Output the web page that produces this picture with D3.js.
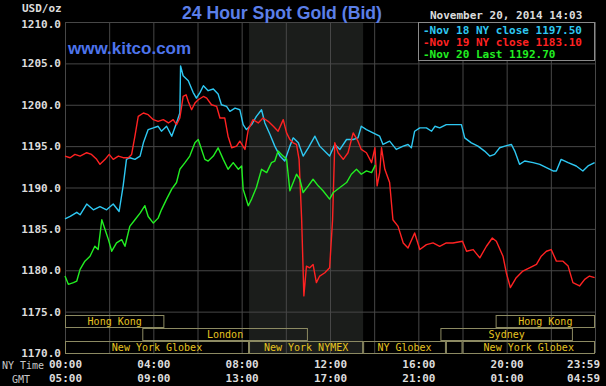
<!DOCTYPE html>
<html>
<head>
<meta charset="utf-8">
<script src="https://cdn.jsdelivr.net/npm/d3@7/dist/d3.min.js"></script>
<style>
  body { margin: 0; background: #000; }
  svg { display: block; }
  .mono { font-family: "DejaVu Sans Mono", monospace; font-weight: bold; }
</style>
</head>
<body>
<div id="chart"></div>
<script>
// Nov 18 (cyan) – NY time and bid
const nov18Times = [
  '00:00','00:14','00:32','00:41','00:59','01:17','01:35','01:53','02:11','02:27','02:38','02:47','02:56',
  '03:10','03:24','03:33','03:46','04:00','04:13','04:22','04:36','04:50','05:03','05:12','05:14','05:21',
  '05:35','05:48','05:57','06:07','06:16','06:29','06:43','06:56','07:05','07:19','07:28','07:42','07:55',
  '08:04','08:13','08:27','08:40','08:54','09:03','09:17','09:30','09:44','09:57','10:11','10:20','10:34',
  '10:47','11:01','11:19','11:32','11:50','11:59','12:13','12:27','12:45','13:03','13:16','13:25','13:39',
  '13:57','14:15','14:24','14:42','15:00','15:19','15:32','15:41','15:50','16:04','16:22','16:36','16:45',
  '16:58','17:16','17:34','17:57','18:06','18:24','18:42','19:00','19:14','19:27','19:41','19:55','20:13',
  '20:22','20:35','20:49','21:12','21:30','21:48','22:06','22:15','22:28','22:47','23:09','23:27','23:41','23:59'
];
const nov18Values = [
  1186.2,1186.5,1187.0,1186.7,1188.0,1187.3,1187.7,1187.3,1188.0,1187.1,1190.2,1193.4,1193.6,
  1193.4,1193.8,1195.4,1197.0,1197.2,1197.4,1196.8,1197.4,1196.2,1197.8,1199.0,1204.7,1203.5,
  1202.9,1201.5,1200.8,1201.5,1202.3,1201.7,1201.9,1201.3,1200.0,1199.8,1199.2,1199.6,1199.4,
  1197.6,1197.0,1197.6,1198.6,1199.4,1197.8,1196.4,1195.0,1193.8,1193.2,1195.0,1196.0,1195.4,
  1193.8,1194.8,1196.2,1195.0,1194.2,1193.8,1195.2,1194.6,1195.8,1195.8,1196.0,1197.4,1197.0,
  1196.6,1196.2,1195.2,1195.6,1194.6,1195.0,1195.2,1194.8,1196.8,1197.2,1197.2,1196.8,1197.4,
  1197.2,1197.6,1197.6,1197.6,1196.0,1195.4,1195.0,1194.4,1193.8,1194.0,1194.8,1195.0,1195.2,
  1194.4,1192.8,1193.2,1193.0,1192.8,1192.4,1192.0,1192.0,1193.4,1193.0,1192.6,1192.0,1192.6,1193.0
];

// Nov 19 (red)
const nov19Times = [
  '00:00','00:14','00:27','00:41','00:59','01:12','01:26','01:35','01:49','02:00',
  '02:11','02:25','02:38','02:52','03:01','03:10','03:19','03:33','03:46','04:00',
  '04:13','04:27','04:41','04:54','05:03','05:12','05:21','05:29','05:35','05:44',
  '05:53','06:02','06:16','06:25','06:38','06:52','07:01','07:14','07:23','07:33',
  '07:46','07:55','08:09','08:18','08:31','08:45','08:58','09:12','09:26','09:39',
  '09:53','10:02','10:11','10:20','10:29','10:36','10:43','10:49','10:56','11:05',
  '11:14','11:23','11:32','11:46','11:59','12:07','12:13','12:22','12:36','12:49',
  '13:03','13:16','13:25','13:39','13:53','14:02','14:08','14:15','14:20','14:29',
  '14:42','14:51','15:05','15:19','15:32','15:50','16:04','16:22','16:40','16:58',
  '17:16','17:34','18:00','18:11','18:29','18:47','19:05','19:21','19:32','19:50',
  '19:59','20:10','20:26','20:44','21:02','21:21','21:34','21:48','22:01','22:15',
  '22:33','22:47','23:00','23:18','23:32','23:45','23:59'
];
const nov19Values = [
  1193.8,1193.6,1194.0,1193.8,1194.2,1194.0,1193.4,1192.8,1193.4,1194.0,
  1193.4,1193.8,1193.6,1193.6,1194.0,1196.2,1198.6,1199.0,1198.8,1198.2,
  1198.0,1198.2,1197.8,1198.2,1197.6,1198.4,1201.0,1201.2,1200.4,1199.4,
  1200.2,1200.6,1201.0,1200.8,1200.0,1199.8,1198.4,1198.4,1196.2,1194.8,
  1195.0,1195.6,1194.6,1197.0,1198.2,1197.8,1198.4,1198.0,1197.4,1196.8,
  1198.2,1196.6,1195.8,1195.4,1195.2,1193.4,1186.1,1176.9,1180.5,1180.3,
  1180.7,1178.5,1179.3,1179.7,1180.3,1186.1,1195.4,1194.2,1193.4,1194.2,
  1196.6,1195.6,1194.6,1194.2,1193.0,1194.8,1190.2,1191.8,1194.8,1192.2,
  1190.6,1186.1,1185.3,1183.3,1182.7,1184.5,1182.5,1183.1,1183.3,1182.9,
  1183.3,1183.3,1183.5,1182.3,1182.5,1181.5,1182.9,1183.9,1183.5,1181.7,
  1179.7,1177.9,1179.1,1179.9,1180.3,1180.7,1181.7,1182.3,1182.5,1181.1,
  1181.1,1180.5,1178.5,1178.1,1178.9,1179.3,1179.1
];

// Nov 20 (green), up to 14:03
const nov20Times = [
  '00:00','00:09','00:23','00:32','00:41','00:54','01:08','01:21','01:30','01:40',
  '01:49','01:58','02:07','02:20','02:34','02:43','02:56','03:10','03:24','03:37',
  '03:46','04:00','04:13','04:22','04:36','04:50','05:03','05:12','05:26','05:39',
  '05:53','06:02','06:11','06:20','06:29','06:43','06:56','07:10','07:23','07:37',
  '07:51','08:00','08:04','08:18','08:27','08:40','08:54','09:08','09:21','09:30',
  '09:39','09:48','10:02','10:11','10:20','10:29','10:38','10:47','11:01','11:14',
  '11:28','11:41','11:59','12:09','12:27','12:45','12:58','13:12','13:25','13:39',
  '13:53','14:03'
];
const nov20Values = [
  1179.3,1178.3,1178.5,1178.7,1180.1,1181.1,1181.7,1182.9,1182.5,1186.1,
  1184.9,1183.7,1182.3,1183.3,1183.7,1182.9,1185.3,1186.1,1186.9,1187.8,
  1186.5,1185.7,1186.3,1187.3,1188.6,1189.8,1190.6,1192.2,1193.0,1193.8,
  1195.4,1195.8,1194.6,1193.4,1193.2,1193.8,1194.8,1193.4,1192.2,1193.0,
  1192.2,1192.6,1189.8,1187.8,1188.6,1190.0,1192.2,1191.8,1193.0,1193.2,
  1194.4,1194.0,1193.4,1189.6,1190.6,1191.6,1191.0,1189.4,1190.2,1191.0,
  1190.2,1189.6,1188.6,1189.4,1190.0,1190.6,1191.6,1192.2,1191.6,1192.0,
  1191.8,1192.7
];

const yTicks = [1170, 1175, 1180, 1185, 1190, 1195, 1200, 1205, 1210];
const nyTimeLabels = ['00:00', '04:00', '08:00', '12:00', '16:00', '20:00', '23:59'];
const gmtLabels = ['05:00', '09:00', '13:00', '17:00', '21:00', '01:00', '04:59'];

const legendLabels = ['Nov 18 NY close 1197.50', 'Nov 19 NY close 1183.10', 'Nov 20 Last 1192.70'];
const seriesColors = ['#2ec8f2', '#ff2222', '#22ee22'];

// trading sessions: row 0 = top
const sessionNames = ['Hong Kong', 'London', 'New York Globex', 'New York NYMEX', 'NY Globex', '', 'New York Globex', 'Sydney', 'Hong Kong'];
const sessionStart = ['00:00', '03:30', '00:00', '08:20', '13:30', '17:15', '18:00', '17:00', '19:30'];
const sessionEnd = ['04:30', '11:00', '08:20', '13:30', '17:15', '18:00', '24:00', '23:00', '24:00'];
const sessionRow = [0, 1, 2, 2, 2, 2, 2, 1, 0];

const toMin = (t) => {
  const [h, m] = t.split(':').map(Number);
  return h * 60 + m;
};

const w = 606;
const h = 386;
const m = { t: 22, r: 11, b: 33, l: 65 };

const svg = d3.select('#chart').append('svg').attr('width', w).attr('height', h);
svg.append('rect').attr('width', w).attr('height', h).attr('fill', '#000');

const x = d3.scaleLinear().domain([0, 1440]).range([m.l, w - m.r]);
const y = d3.scaleLinear().domain([1170, 1210]).range([h - m.b, m.t]);

// NYMEX session shading
svg
  .append('rect')
  .attr('x', x(toMin('08:20')))
  .attr('y', m.t)
  .attr('width', x(toMin('13:30')) - x(toMin('08:20')))
  .attr('height', h - m.b - m.t)
  .attr('fill', '#1b1d1b');

// grid + y labels
const yAxis = svg
  .append('g')
  .attr('transform', `translate(${m.l},0)`)
  .call(d3.axisLeft(y).tickValues(yTicks).tickSize(-(w - m.r - m.l)).tickPadding(4).tickFormat(d3.format('.1f')));
yAxis.select('.domain').remove();
yAxis.selectAll('line').attr('stroke', '#474747');
yAxis.selectAll('text').attr('class', 'mono').attr('fill', '#dcdcdc').style('font-size', '11px');
yAxis.selectAll('text').filter((d) => d === 1210).attr('dy', '0.5em');

const xGrid = svg
  .append('g')
  .attr('transform', `translate(0,${h - m.b})`)
  .call(d3.axisBottom(x).tickValues(d3.range(0, 1441, 120)).tickSize(-(h - m.b - m.t)).tickFormat(''));
xGrid.select('.domain').remove();
xGrid.selectAll('line').attr('stroke', '#474747');

// session boxes
const rowTop = [315, 328, 341];
const sess = svg.append('g');
sessionNames.forEach((name, i) => {
  const x0 = x(toMin(sessionStart[i]));
  const x1 = x(toMin(sessionEnd[i]));
  const yy = rowTop[sessionRow[i]];
  sess
    .append('rect')
    .attr('x', x0 + 0.5)
    .attr('y', yy + 0.5)
    .attr('width', x1 - x0 - 1)
    .attr('height', 12)
    .attr('fill', 'none')
    .attr('stroke', '#8c8a62');
  sess
    .append('text')
    .attr('class', 'mono')
    .attr('x', (x0 + x1) / 2)
    .attr('y', yy + 10)
    .attr('text-anchor', 'middle')
    .attr('fill', '#e6c420')
    .style('font-size', '10px')
    .style('font-weight', 'normal')
    .text(name);
});

// price lines
const series = [
  { times: nov18Times, values: nov18Values },
  { times: nov19Times, values: nov19Values },
  { times: nov20Times, values: nov20Values },
];
const line = d3
  .line()
  .x((d) => x(d[0]))
  .y((d) => y(d[1]));
series.forEach((s, i) => {
  const pts = s.times.map((t, j) => [toMin(t), s.values[j]]);
  svg
    .append('path')
    .datum(pts)
    .attr('fill', 'none')
    .attr('stroke', seriesColors[i])
    .attr('stroke-width', 1.4)
    .attr('stroke-linejoin', 'round')
    .attr('d', line);
});

// bottom time rows
const labelMins = nyTimeLabels.map((t) => Math.min(toMin(t), 1440));
[nyTimeLabels, gmtLabels].forEach((labels, r) => {
  const g = svg
    .append('g')
    .attr('transform', `translate(0,${h - m.b + r * 14})`)
    .call(d3.axisBottom(x).tickValues(labelMins).tickSize(0).tickPadding(7).tickFormat((d, i) => labels[i]));
  g.select('.domain').remove();
  g.selectAll('text').attr('class', 'mono').attr('fill', '#dcdcdc').style('font-size', '11px');
  g.selectAll('text').filter((d, i) => i === labels.length - 1).attr('text-anchor', 'end').attr('x', 5);
});
svg.append('text').attr('x', 2).attr('y', 369).attr('fill', '#c8c8c8')
  .style('font', '10px "DejaVu Sans Mono", monospace').text('NY Time');
svg.append('text').attr('x', 12).attr('y', 383).attr('fill', '#c8c8c8')
  .style('font', '10px "DejaVu Sans Mono", monospace').text('GMT');

// header texts
svg.append('text').attr('class', 'mono').attr('x', 22).attr('y', 12).attr('fill', '#dcdcdc')
  .style('font-size', '11px').text('USD/oz');
svg.append('text').attr('x', 282).attr('y', 19).attr('text-anchor', 'middle').attr('fill', '#5b7fe8')
  .attr('textLength', 200).attr('lengthAdjust', 'spacingAndGlyphs')
  .style('font', 'bold 18px "Liberation Sans", Arial, sans-serif').text('24 Hour Spot Gold (Bid)');
svg.append('text').attr('x', 68).attr('y', 54).attr('fill', '#4d74ec')
  .style('font', 'bold 17px "Liberation Sans", Arial, sans-serif').text('www.kitco.com');
svg.append('text').attr('class', 'mono').attr('x', 430).attr('y', 19).attr('fill', '#dcdcdc')
  .style('font-size', '11px').text('November 20, 2014 14:03');

// legend
svg.append('rect').attr('x', 418.5).attr('y', 22.5).attr('width', 176).attr('height', 38)
  .attr('fill', '#000').attr('stroke', '#8a8a8a');
legendLabels.forEach((lab, i) => {
  svg.append('text').attr('class', 'mono').attr('x', 423).attr('y', 34 + i * 12)
    .attr('fill', seriesColors[i]).style('font-size', '11px').text('-' + lab);
});
</script>
</body>
</html>
